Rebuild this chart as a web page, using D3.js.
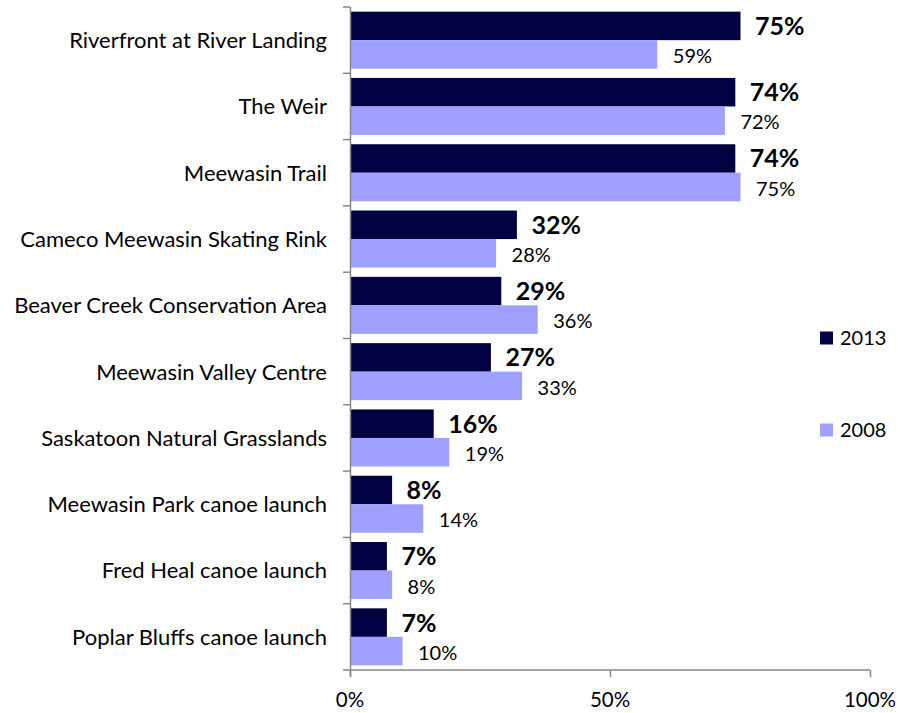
<!DOCTYPE html>
<html><head><meta charset="utf-8">
<script src="https://cdn.jsdelivr.net/npm/d3@7"></script>
<style>body{margin:0;background:#fff}svg{display:block}text{font-family:Lato,"Open Sans",sans-serif;fill:#000}</style>
</head><body><svg id="c" width="900" height="713"></svg>
<script>
const categories = ["Riverfront at River Landing","The Weir","Meewasin Trail","Cameco Meewasin Skating Rink","Beaver Creek Conservation Area","Meewasin Valley Centre","Saskatoon Natural Grasslands","Meewasin Park canoe launch","Fred Heal canoe launch","Poplar Bluffs canoe launch"];
const values2013 = [75,74,74,32,29,27,16,8,7,7];
const values2008 = [59,72,75,28,36,33,19,14,8,10];
const seriesNames = ["2013","2008"];
const xTicks = [0,50,100];
const colors = ["#000042","#a0a0ff"];

(function(){
const svg = d3.select("#c");
const pL = 350, pR = 870, pT = 7, pB = 670;
const x = d3.scaleLinear().domain([0,100]).range([pL,pR]);
const y = d3.scaleBand().domain(categories).range([pT,pB]).paddingInner(0.14).paddingOuter(0.07);
const sub = d3.scaleBand().domain(seriesNames).range([0,y.bandwidth()]);
const band = (pB-pT)/categories.length;

const series = [values2013, values2008];
series.forEach((vals,si)=>{
  svg.append("g").selectAll("rect").data(categories).join("rect")
    .attr("x", x(0)+0.5)
    .attr("y", d=>y(d)+sub(seriesNames[si]))
    .attr("width", (d,i)=>x(vals[i])-x(0))
    .attr("height", sub.bandwidth())
    .attr("fill", colors[si]);
  svg.append("g").selectAll("text").data(categories).join("text")
    .attr("x", (d,i)=>x(vals[i]) + (si===0?15:16))
    .attr("y", d=>y(d)+sub(seriesNames[si])+sub.bandwidth()/2 + (si===0?0:1.5))
    .attr("dy","0.36em")
    .style("font-size", si===0?"25px":"20px")
    .style("font-weight", si===0?"bold":"normal")
    .text((d,i)=>vals[i]+"%");
});

const axisColor = "#868686";
svg.append("line").attr("x1",pL+0.5).attr("x2",pL+0.5).attr("y1",pT).attr("y2",pB+7)
  .attr("stroke",axisColor).attr("stroke-width",1.5);
for(let i=0;i<=categories.length;i++){
  const yy = pT + i*band;
  svg.append("line").attr("x1",pL-7).attr("x2",pL).attr("y1",yy).attr("y2",yy)
    .attr("stroke",axisColor).attr("stroke-width",1.5);
}
svg.append("line").attr("x1",pL).attr("x2",pR).attr("y1",pB).attr("y2",pB)
  .attr("stroke",axisColor).attr("stroke-width",1.5);
svg.append("g").selectAll("line").data(xTicks).join("line")
  .attr("x1",d=>x(d)+0.5).attr("x2",d=>x(d)+0.5).attr("y1",pB).attr("y2",pB+7)
  .attr("stroke",axisColor).attr("stroke-width",1.5);
svg.append("g").selectAll("text").data(xTicks).join("text")
  .attr("x",d=>x(d)).attr("y",pB+37).attr("text-anchor","middle")
  .style("font-size","20.5px").text(d=>d+"%");

svg.append("g").selectAll("text").data(categories).join("text")
  .attr("x",327).attr("y",d=>y(d)+y.bandwidth()/2).attr("dy","0.36em")
  .attr("text-anchor","end").style("font-size","22px").text(d=>d);

const legY = [338, 430];
seriesNames.forEach((s,i)=>{
  svg.append("rect").attr("x",820).attr("y",legY[i]-6.5).attr("width",13).attr("height",13).attr("fill",colors[i]);
  svg.append("text").attr("x",840).attr("y",legY[i]).attr("dy","0.36em").style("font-size","20px").text(s);
});
})();
</script></body></html>
